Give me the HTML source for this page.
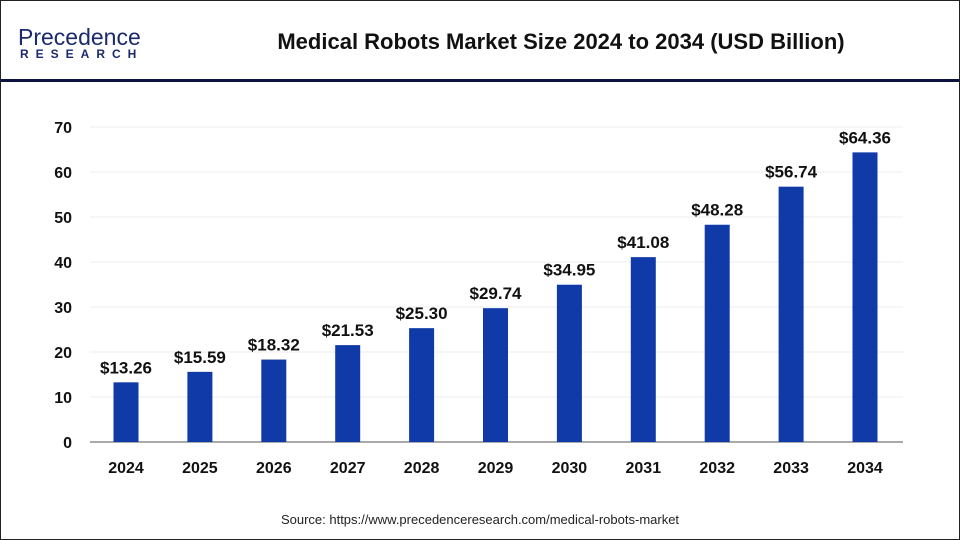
<!DOCTYPE html>
<html><head><meta charset="utf-8"><style>
body{margin:0;width:960px;height:540px;overflow:hidden;background:#fff;font-family:"Liberation Sans",Arial,sans-serif}
#frame{position:absolute;left:0;top:0;width:958px;height:538px;border:1px solid #222}
</style></head><body>
<div id="frame"></div>
<svg width="960" height="540" style="position:absolute;left:0;top:0" id="chart">
<g>
<text x="18" y="45" font-size="23" fill="#1a2a6c">Precedence</text>
<text x="20" y="58" font-size="12" font-weight="bold" fill="#1a2a6c" letter-spacing="7">RESEARCH</text>
</g>
<text x="561" y="49" font-size="22" font-weight="bold" text-anchor="middle" fill="#111">Medical Robots Market Size 2024 to 2034 (USD Billion)</text>
<rect x="1" y="79" width="958" height="3" fill="#0d1240"/>
<g id="grid"></g><g id="bars"></g>
<text x="480" y="524" font-size="13" text-anchor="middle" fill="#222">Source: https://www.precedenceresearch.com/medical-robots-market</text>
</svg>
<script>
const categories=["2024","2025","2026","2027","2028","2029","2030","2031","2032","2033","2034"];
const values=[13.26,15.59,18.32,21.53,25.30,29.74,34.95,41.08,48.28,56.74,64.36];
const labels=["$13.26","$15.59","$18.32","$21.53","$25.30","$29.74","$34.95","$41.08","$48.28","$56.74","$64.36"];
const yTicks=[0,10,20,30,40,50,60,70];
const NS="http://www.w3.org/2000/svg";
const y=v=>442-v*4.5;
const x=i=>126+i*73.9;
const grid=document.getElementById('grid'),bars=document.getElementById('bars');
function mk(tag,a,p){const e=document.createElementNS(NS,tag);for(const k in a)e.setAttribute(k,a[k]);p.appendChild(e);return e;}
yTicks.forEach(t=>{
 if(t>0){const l=mk('line',{x1:90,x2:903,y1:y(t),y2:y(t),stroke:'#ececec'},grid);
 
 }
 const tx=mk('text',{x:72,y:y(t)+6,'font-size':16,'font-weight':'bold','text-anchor':'end',fill:'#111'},grid);tx.textContent=t;
 
 
});
const ax=mk('line',{x1:90,x2:903,y1:442,y2:442,stroke:'#aaa','stroke-width':2},grid);


values.forEach((v,i)=>{
 const r=mk('rect',{x:x(i)-12.5,y:y(v),width:25,height:442-y(v),fill:'#0f3aa8'},bars);
 
 
 const t=mk('text',{x:x(i),y:y(v)-9,'font-size':17,'font-weight':'bold','text-anchor':'middle',fill:'#111'},bars);t.textContent=labels[i];
 
 
 const c=mk('text',{x:x(i),y:473,'font-size':16,'font-weight':'bold','text-anchor':'middle',fill:'#111'},bars);c.textContent=categories[i];
 
 
});
</script>
</body></html>
